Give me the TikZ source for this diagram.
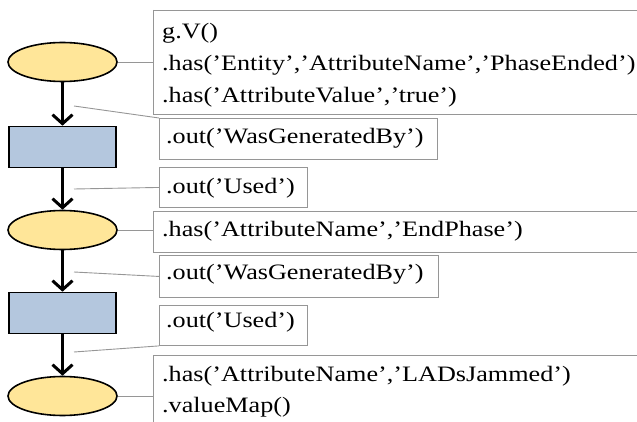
\documentclass[tikz,border=0pt]{standalone}
\usepackage{fontspec}
\setmainfont{Liberation Serif}[FakeStretch=1.19]
\usetikzlibrary{shapes.geometric,arrows.meta}
\definecolor{ellfill}{RGB}{255,230,153}
\definecolor{recfill}{RGB}{180,199,222}
\definecolor{boxgray}{RGB}{150,150,150}
\tikzset{
  ell/.style={ellipse, draw=black, line width=1.6pt, fill=ellfill, minimum width=109pt, minimum height=39pt, inner sep=0pt},
  rec/.style={rectangle, draw=black, line width=1.6pt, fill=recfill, minimum width=107pt, minimum height=41pt, inner sep=0pt},
  flow/.style={line width=3pt, -{Straight Barb[length=9pt,width=20pt,line width=3pt]}},
  qbox/.style={rectangle, draw=boxgray, line width=0.9pt, anchor=north west, inner sep=0pt},
  qtext/.style={anchor=north west, align=left, font=\fontsize{22pt}{32pt}\selectfont, inner sep=0pt},
  leader/.style={draw=boxgray, line width=0.9pt}
}
\begin{document}
\begin{tikzpicture}[x=1pt,y=-1pt]
\useasboundingbox (0,0) rectangle (637,422);
% shapes
\node[ell] (e1) at (62.5,62) {};
\node[rec] (r1) at (62.5,147) {};
\node[ell] (e2) at (62.5,230) {};
\node[rec] (r2) at (62.5,313) {};
\node[ell] (e3) at (62.5,396) {};
% flow arrows
\draw[flow] (e1.south) -- (r1.north);
\draw[flow] (r1.south) -- (e2.north);
\draw[flow] (e2.south) -- (r2.north);
\draw[flow] (r2.south) -- (e3.north);
% boxes (right side runs off the picture)
\draw[qbox] (153,10) -- (660,10) (153,10) -- (153,114) -- (660,114);
\node[qtext] (t1) at (162,23) {g.V()\\.has(’Entity’,’AttributeName’,’PhaseEnded’)\\.has(’AttributeValue’,’true’)};
\node[qbox, minimum width=278pt, minimum height=41pt] (b2) at (159,118) {};
\node[qtext] (t2) at (166,128.5) {.out(’WasGeneratedBy’)};
\node[qbox, minimum width=148pt, minimum height=40pt] (b3) at (159,167) {};
\node[qtext] (t3) at (166,178.5) {.out(’Used’)};
\draw[qbox] (660,211) -- (153,211) -- (153,252) -- (660,252);
\node[qtext] (t4) at (162,221.5) {.has(’AttributeName’,’EndPhase’)};
\node[qbox, minimum width=279pt, minimum height=42pt] (b5) at (159,255) {};
\node[qtext] (t5) at (166,264.5) {.out(’WasGeneratedBy’)};
\node[qbox, minimum width=148pt, minimum height=40pt] (b6) at (159,305) {};
\node[qtext] (t6) at (166,312.5) {.out(’Used’)};
\draw[qbox] (660,355) -- (153,355) -- (153,440);
\node[qtext, font=\fontsize{22pt}{31pt}\selectfont] (t7) at (162,366.5) {.has(’AttributeName’,’LADsJammed’)\\.valueMap()};
% leaders
\coordinate (c1) at (153,62);
\coordinate (m1) at (74,106);
\coordinate (m2) at (74,189);
\coordinate (c4) at (153,230);
\coordinate (m3) at (74,272);
\coordinate (m4) at (74,352);
\coordinate (c7) at (153,396);
\draw[leader] (e1.east) -- (c1);
\draw[leader] (m1) -- (b2.north west);
\draw[leader] (m2) -- (b3.west);
\draw[leader] (e2.east) -- (c4);
\draw[leader] (m3) -- (b5.west);
\draw[leader] (m4) -- (b6.south west);
\draw[leader] (e3.east) -- (c7);
\end{tikzpicture}
\end{document}
